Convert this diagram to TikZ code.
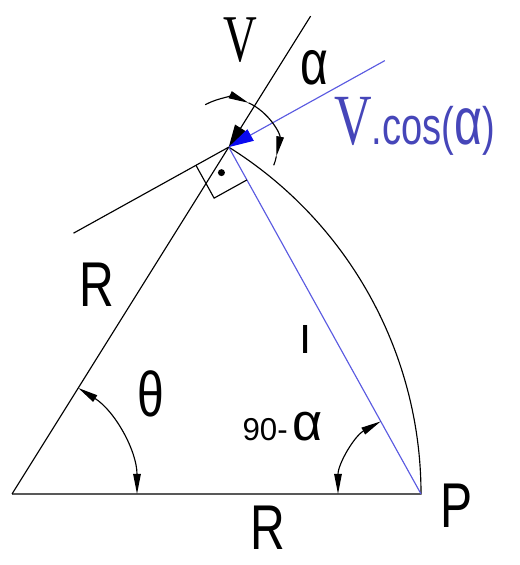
\documentclass[tikz,border=0pt]{standalone}
\usepackage{fontspec}
\setmainfont{Liberation Sans}
\newfontfamily\timesfont{Liberation Serif}
\usetikzlibrary{arrows.meta,calc}
\definecolor{chordblue}{RGB}{90, 90, 225}
\definecolor{textblue}{RGB}{70, 70, 185}
\definecolor{headblue}{RGB}{10, 10, 240}

\begin{document}
\begin{tikzpicture}[
  line width=0.65pt,
  dimarrow/.style={-{Triangle[length=0.4cm,width=0.15cm]}},
  bothends/.style={{Triangle[length=0.4cm,width=0.15cm]}-{Triangle[length=0.4cm,width=0.15cm]}},
  bigtxt/.style={inner sep=0, xscale=0.76, font=\fontsize{36}{36}\selectfont}
]
\useasboundingbox (0,0) rectangle (10.38,11.3);
% Corner points of the sector
\coordinate (O) at (0.24,1.42);
\coordinate (P) at (8.42,1.42);
\coordinate (Q) at ($(O)+(58:8.18)$);
\coordinate (Vtop) at ($(O)+(58:11.27)$);
\coordinate (Tleft) at ($(Q)+(209:3.55)$);
\coordinate (Tright) at ($(Q)+(29:3.57)$);

% Sector, chord and the line normal to it
\draw (O) -- (P) arc[start angle=0, end angle=58, radius=8.18];
\draw (O) -- (Q);
\draw[chordblue] (Q) -- (P);
\draw (Tleft) -- (Q);

% Velocity arrows
\draw[-{Triangle[length=0.45cm,width=0.26cm]}] (Vtop) -- (Q);
\draw[chordblue, -{Triangle[length=0.5cm,width=0.26cm,color=headblue]}] (Tright) -- (Q);

% Right angle at Q
\draw (Q) ++(209:0.75) -- ++(299:0.75) -- ++(29:0.75);
\fill ($(Q)+(209:0.375)+(299:0.375)$) circle (0.07);

% Angle marks
\draw[bothends] ($(O)+(0:2.5)$) arc[start angle=0, end angle=58, radius=2.5];
\draw[bothends] ($(P)+(180:1.66)$) arc[start angle=180, end angle=119, radius=1.66];
\draw[dimarrow] ($(Q)+(119:0.97)$) arc[start angle=119, end angle=66, radius=0.97];
\draw[dimarrow] ($(Q)+(66:0.97)$) arc[start angle=66, end angle=-11, radius=0.97];
\draw ($(Q)+(-11:0.97)$) arc[start angle=-11, end angle=-22, radius=0.97];

% Labels
\node[bigtxt, xscale=0.92, font=\timesfont\fontsize{38}{38}\selectfont] (vlabel) at (4.8,10.5) {V};
\node[bigtxt] (alphalabel) at (6.28,9.94) {α};
\node[bigtxt, anchor=base west, textblue, xscale=0.95] (vcoslabel) at (6.68,8.4)
  {{\timesfont\fontsize{41}{41}\selectfont V}{\fontsize{30}{30}\selectfont .cos(}{\fontsize{38}{38}\selectfont α}{\fontsize{30}{30}\selectfont )}};
\node[bigtxt] (rside) at (1.93,5.6) {R};
\node[bigtxt] (theta) at (3.02,3.42) {θ};
\node[bigtxt, font=\bfseries\fontsize{22}{22}\selectfont] (llabel) at (6.12,4.52) {l};
\node[bigtxt, anchor=base west, xscale=1.3] (compl) at (4.84,2.48)
  {{\fontsize{18}{18}\selectfont 90-}\hspace{0.1cm}{\fontsize{30}{30}\selectfont α}};
\node[bigtxt] (plabel) at (9.14,1.18) {P};
\node[bigtxt, anchor=base] (rbase) at (5.36,0.3) {R};
\end{tikzpicture}
\end{document}
